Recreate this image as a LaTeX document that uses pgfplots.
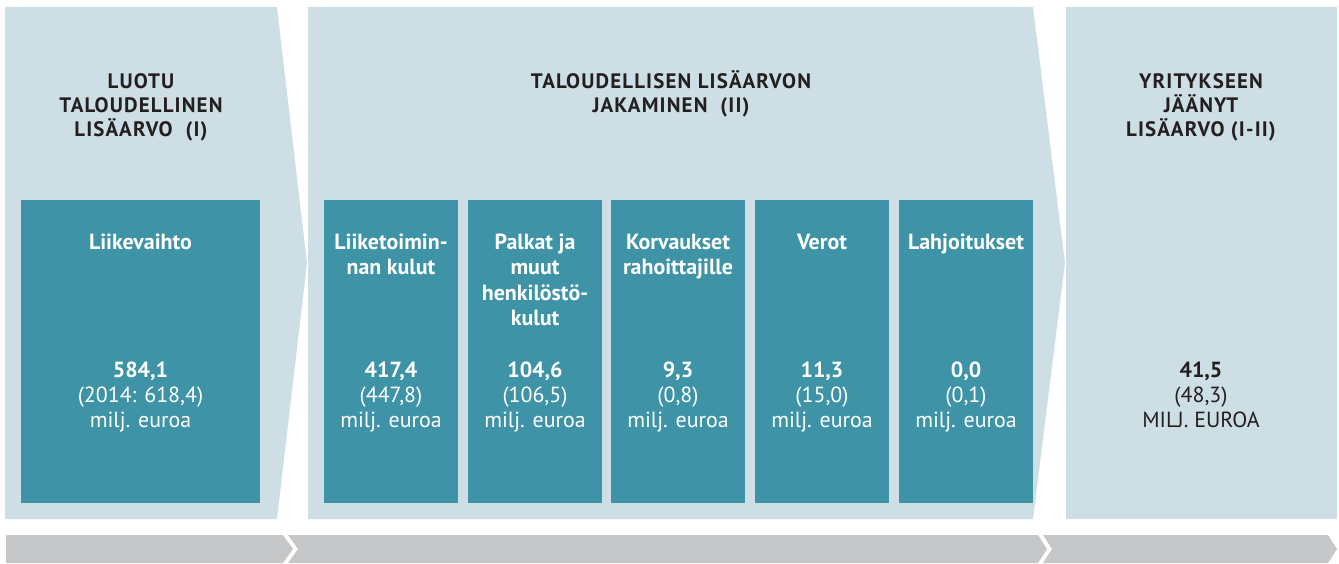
\documentclass[border=0pt]{standalone}
\usepackage{pgfplots}
\pgfplotsset{compat=1.18}
\usepackage{fontspec}
\setmainfont{PT Sans}
\newfontfamily\hdfont[LetterSpace=5.5]{PT Sans}
\definecolor{panel}{RGB}{205,222,228}
\definecolor{boxteal}{RGB}{62,148,166}
\definecolor{barg}{RGB}{198,199,201}
\definecolor{ink}{RGB}{35,31,32}
\newcommand{\hd}{\hdfont\fontsize{21}{24}\selectfont\bfseries}
\newcommand{\bd}{\fontsize{22}{24}\selectfont}
\begin{document}
\begin{tikzpicture}
\begin{axis}[width=1339bp, height=563bp, scale only axis,
  xmin=0, xmax=1339, ymin=0, ymax=563, y dir=reverse,
  hide axis, clip=false]
% light panels
\addplot[fill=panel, draw=none] coordinates {(5,7) (277,7) (307,263) (277,519) (5,519)} -- cycle;
\addplot[fill=panel, draw=none] coordinates {(308,7) (1033,7) (1065,263) (1033,519) (308,519)} -- cycle;
\addplot[fill=panel, draw=none] coordinates {(1066,7) (1337,7) (1337,519) (1066,519)} -- cycle;
% teal boxes
\addplot[fill=boxteal, draw=none] coordinates {(21,200) (260,200) (260,503) (21,503)} -- cycle;
\addplot[fill=boxteal, draw=none] coordinates {(324,200) (458,200) (458,503) (324,503)} -- cycle;
\addplot[fill=boxteal, draw=none] coordinates {(468,200) (602,200) (602,503) (468,503)} -- cycle;
\addplot[fill=boxteal, draw=none] coordinates {(611,200) (745,200) (745,503) (611,503)} -- cycle;
\addplot[fill=boxteal, draw=none] coordinates {(755,200) (889,200) (889,503) (755,503)} -- cycle;
\addplot[fill=boxteal, draw=none] coordinates {(899,200) (1033,200) (1033,503) (899,503)} -- cycle;
% bottom gray arrows
\addplot[fill=barg, draw=none] coordinates {(6,535) (283,535) (293,549) (283,563) (6,563)} -- cycle;
\addplot[fill=barg, draw=none] coordinates {(288,535) (1038,535) (1047,549) (1038,563) (288,563) (298,549)} -- cycle;
\addplot[fill=barg, draw=none] coordinates {(1043,535) (1328,535) (1337,549) (1328,563) (1043,563) (1052,549)} -- cycle;
% headings
\node[anchor=base, font=\hd, text=ink] at (axis cs:141,88) {LUOTU};
\node[anchor=base, font=\hd, text=ink] at (axis cs:141,112) {TALOUDELLINEN};
\node[anchor=base, font=\hd, text=ink] at (axis cs:141,136) {LISÄARVO\ \ (I)};
\node[anchor=base, font=\hd, text=ink] at (axis cs:671,88) {TALOUDELLISEN LISÄARVON};
\node[anchor=base, font=\hd, text=ink] at (axis cs:671,112) {JAKAMINEN\ \ (II)};
\node[anchor=base, font=\hd, text=ink] at (axis cs:1201,88) {YRITYKSEEN};
\node[anchor=base, font=\hd, text=ink] at (axis cs:1201,112) {JÄÄNYT};
\node[anchor=base, font=\hd, text=ink] at (axis cs:1201,136) {LISÄARVO (I-II)};
% box labels
\node[anchor=base, font=\bd\bfseries, text=white] at (axis cs:140.5,249) {Liikevaihto};
\node[anchor=base, font=\bd\bfseries, text=white] at (axis cs:391,249) {Liiketoimin-};
\node[anchor=base, font=\bd\bfseries, text=white] at (axis cs:391,274) {nan kulut};
\node[anchor=base, font=\bd\bfseries, text=white] at (axis cs:535,249) {Palkat ja};
\node[anchor=base, font=\bd\bfseries, text=white] at (axis cs:535,274.5) {muut};
\node[anchor=base, font=\bd\bfseries, text=white] at (axis cs:535,300) {henkilöstö-};
\node[anchor=base, font=\bd\bfseries, text=white] at (axis cs:535,325.5) {kulut};
\node[anchor=base, font=\bd\bfseries, text=white] at (axis cs:678,249) {Korvaukset};
\node[anchor=base, font=\bd\bfseries, text=white] at (axis cs:678,274) {rahoittajille};
\node[anchor=base, font=\bd\bfseries, text=white] at (axis cs:822,249) {Verot};
\node[anchor=base, font=\bd\bfseries, text=white] at (axis cs:966,249) {Lahjoitukset};
% values
\node[anchor=base, font=\bd\bfseries, text=white] at (axis cs:140.5,377) {584,1};
\node[anchor=base, font=\bd, text=white] at (axis cs:140.5,402) {(2014: 618,4)};
\node[anchor=base, font=\bd, text=white] at (axis cs:140.5,427) {milj. euroa};
\node[anchor=base, font=\bd\bfseries, text=white] at (axis cs:391,377) {417,4};
\node[anchor=base, font=\bd, text=white] at (axis cs:391,402) {(447,8)};
\node[anchor=base, font=\bd, text=white] at (axis cs:391,427) {milj. euroa};
\node[anchor=base, font=\bd\bfseries, text=white] at (axis cs:535,377) {104,6};
\node[anchor=base, font=\bd, text=white] at (axis cs:535,402) {(106,5)};
\node[anchor=base, font=\bd, text=white] at (axis cs:535,427) {milj. euroa};
\node[anchor=base, font=\bd\bfseries, text=white] at (axis cs:678,377) {9,3};
\node[anchor=base, font=\bd, text=white] at (axis cs:678,402) {(0,8)};
\node[anchor=base, font=\bd, text=white] at (axis cs:678,427) {milj. euroa};
\node[anchor=base, font=\bd\bfseries, text=white] at (axis cs:822,377) {11,3};
\node[anchor=base, font=\bd, text=white] at (axis cs:822,402) {(15,0)};
\node[anchor=base, font=\bd, text=white] at (axis cs:822,427) {milj. euroa};
\node[anchor=base, font=\bd\bfseries, text=white] at (axis cs:966,377) {0,0};
\node[anchor=base, font=\bd, text=white] at (axis cs:966,402) {(0,1)};
\node[anchor=base, font=\bd, text=white] at (axis cs:966,427) {milj. euroa};
\node[anchor=base, font=\bd\bfseries, text=ink] at (axis cs:1201,377) {41,5};
\node[anchor=base, font=\bd, text=ink] at (axis cs:1201,402) {(48,3)};
\node[anchor=base, font=\bd, text=ink] at (axis cs:1201,427) {MILJ. EUROA};
\end{axis}
\pgfresetboundingbox
\path[use as bounding box] (current axis.south west) rectangle (current axis.north east);
\end{tikzpicture}
\end{document}
